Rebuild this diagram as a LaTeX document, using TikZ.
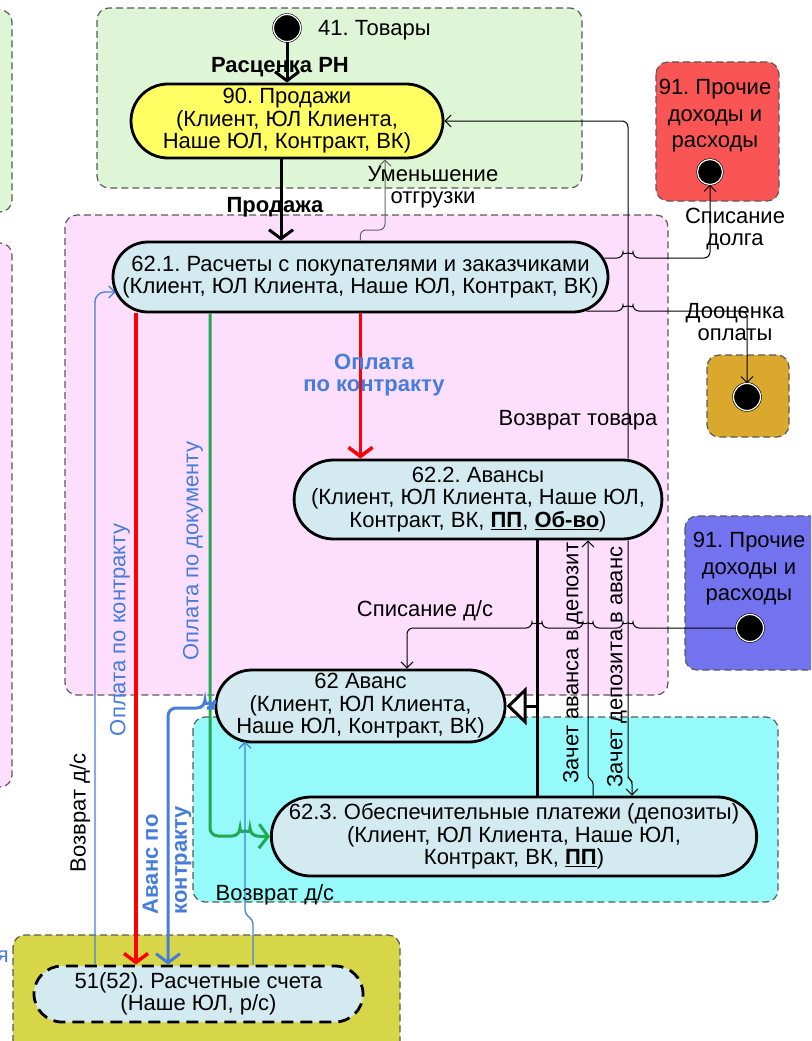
\documentclass[tikz,border=0pt]{standalone}
\usepackage{fontspec}
\setmainfont{Liberation Sans}
\usetikzlibrary{positioning,shapes.misc,arrows.meta}
\frenchspacing

\definecolor{regGreen}{RGB}{222,246,214}
\definecolor{regPink}{RGB}{253,222,253}
\definecolor{regCyan}{RGB}{150,250,250}
\definecolor{regRed}{RGB}{250,85,85}
\definecolor{regGold}{RGB}{218,168,45}
\definecolor{regBlue}{RGB}{115,115,240}
\definecolor{regOlive}{RGB}{214,214,72}
\definecolor{acctBlue}{RGB}{210,234,240}
\definecolor{acctYellow}{RGB}{255,255,100}
\definecolor{lblBlue}{RGB}{70,125,220}
\definecolor{payGreen}{RGB}{30,170,80}

\begin{document}
\begin{tikzpicture}[x=1pt,y=-1pt,
  every node/.style={font=\fontsize{22}{22.5}\selectfont, inner sep=0pt},
  region/.style={draw=black!65, line width=1.2pt, dash pattern=on 7pt off 4pt, rounded corners=12pt},
  acct/.style={rounded rectangle, draw=black, line width=2.8pt, fill=acctBlue, align=center},
  startdot/.style={circle, fill=black, draw=black, line width=0.6pt, double=white, double distance=1.2pt, minimum size=27pt},
  flow/.style={line width=3pt, -{Straight Barb[length=9pt,width=24pt]}},
  link/.style={line width=1pt, rounded corners=6pt, -{Straight Barb[length=6pt,width=12pt]}},
  lbl/.style={align=center},
  bluelbl/.style={text=lblBlue, align=center},
]
\clip (0,0) rectangle (811,1041);

% regions
\draw [region, fill=regGreen] (-40,10) rectangle (12,212);
\draw [region, fill=regPink] (-40,243) rectangle (12,787);
\draw [region, fill=regGreen] (97,8) rectangle (582,188);
\draw [region, fill=regPink] (65,215) rectangle (668,695);
\draw [region, fill=regCyan] (193,717) rectangle (778,902);
\draw [region, fill=regRed] (656,62) rectangle (779,201);
\draw [region, fill=regGold] (707,355) rectangle (789,437);
\draw [region, fill=regBlue] (685,516) rectangle (830,670);
\draw [region, fill=regOlive] (13,935) rectangle (400,1060);

% accounts
\node [startdot] (start) at (287,28) {};
\node [anchor=west] (goods) at (318,30) {41. Товары};
\node [acct, fill=acctYellow, minimum width=312pt, minimum height=74pt] (n90) at (287,121)
  {90. Продажи\\(Клиент, ЮЛ Клиента,\\Наше ЮЛ, Контракт, ВК)};
\node [acct, minimum width=495pt, minimum height=70pt] (n621) at (360.5,277)
  {62.1. Расчеты с покупателями и заказчиками\\(Клиент, ЮЛ Клиента, Наше ЮЛ, Контракт, ВК)};
\node [acct, minimum width=350pt, minimum height=79pt] (n622) at (478,499.5)
  {62.2. Авансы\\(Клиент, ЮЛ Клиента, Наше ЮЛ,\\Контракт, ВК, \textbf{\underline{ПП}}, \textbf{\underline{Об-во}})};
\node [acct, minimum width=273pt, minimum height=72pt] (n62) at (360.5,706)
  {62 Аванс\\(Клиент, ЮЛ Клиента,\\Наше ЮЛ, Контракт, ВК)};
\node [acct, minimum width=478pt, minimum height=79pt] (n623) at (514,836.5)
  {62.3. Обеспечительные платежи (депозиты)\\(Клиент, ЮЛ Клиента, Наше ЮЛ,\\Контракт, ВК, \textbf{\underline{ПП}})};
\node [acct, dash pattern=on 12pt off 7pt, minimum width=329pt, minimum height=56pt] (n51) at (198.5,994)
  {51(52). Расчетные счета\\(Наше ЮЛ, р/с)};

\node [lbl, font=\fontsize{22}{26.5}\selectfont] (other1) at (715,116) {91. Прочие\\доходы и\\расходы};
\node [startdot, minimum size=25pt] (reddot) at (710,172) {};
\node [startdot] (golddot) at (747,397) {};
\node [lbl, font=\fontsize{22}{26.5}\selectfont] (other2) at (749,569) {91. Прочие\\доходы и\\расходы};
\node [startdot] (bluedot) at (750,628) {};

% flows
\draw [flow] (start.south) -- (n90.north);
\draw [flow] ([xshift=-6pt]n90.south) -- ([xshift=-6pt]n90.south |- n621.north);
\draw [link, draw=black!60] (n621.north) -- (360,230) -- (385,230) -- ([xshift=98pt]n90.south);
\draw [link] ([xshift=150pt]n622.north) |- (n90.east);
\draw [link] ([xshift=-5pt,yshift=19pt]n621.east) -- (623,258) arc [start angle=180, end angle=360, radius=5]
  -- (710,258) -- (reddot.south);
\draw [link] ([xshift=-23pt,yshift=-34pt]n621.east) -- (623,311) arc [start angle=180, end angle=360, radius=5]
  -- (747,311) -- (golddot.north);
\draw [flow, red, line width=3.5pt] (n621.south) -- (n621.south |- n622.north);
\draw [flow, red, line width=3.5pt] ([xshift=-224.5pt]n621.south) -- ([xshift=-62.5pt]n51.north);
\draw [flow, payGreen, line width=3pt, rounded corners=8pt] ([xshift=-150.5pt]n621.south) -- (210,836)
  -- (240,836) arc [start angle=180, end angle=360, radius=5] -- (n623.west);
\draw [link, lblBlue, line width=1.3pt, rounded corners=10pt] ([xshift=-103.5pt]n51.north) |- ([xshift=4pt,yshift=-15pt]n621.west);
\draw [flow, lblBlue, rounded corners=8pt] ([yshift=-2pt]n62.west) -- (215,708) arc [start angle=0, end angle=-180, radius=5]
  -- (168,708) -- ([xshift=-30.5pt]n51.north);
\draw [link, lblBlue, line width=1.3pt, rounded corners=4pt] ([xshift=54.5pt]n51.north) -- (253,920) -- (245,914)
  -- ([xshift=-115.5pt,yshift=2pt]n62.south);
\draw [link] (bluedot.west) -- (633,628) arc [start angle=0, end angle=-180, radius=5]
  -- (593,628) arc [start angle=0, end angle=-180, radius=5]
  -- (542,628) arc [start angle=0, end angle=-180, radius=5]
  -- (407,628) -- ([xshift=46.5pt]n62.north);
\draw [line width=3pt] ([xshift=59pt]n622.south) -- ([xshift=23pt]n623.north);
\draw [line width=3pt, -{Triangle[open, fill=white, length=20pt, width=38pt]}] ([xshift=59pt]n622.south |- n62.east) -- (n62.east);
\draw [link, rounded corners=3pt] ([xshift=79pt]n623.north) -- (593,781) -- (588,778) -- ([xshift=110pt]n622.south);
\draw [link, rounded corners=3pt] ([xshift=150pt]n622.south) -- (628,778) -- (632,781) -- ([xshift=118pt]n623.north);

% labels
\node [font=\fontsize{22}{22.5}\selectfont\bfseries] (lprice) at (280,67) {Расценка РН};
\node [font=\fontsize{22}{22.5}\selectfont\bfseries] (lsale) at (275,207) {Продажа};
\node [lbl] (lless) at (433,187) {Уменьшение\\отгрузки};
\node [lbl] (lret) at (578,420) {Возврат товара};
\node [lbl] (ldebt) at (735,229) {Списание\\долга};
\node [lbl] (lreval) at (735,322) {Дооценка\\оплаты};
\node [bluelbl, font=\fontsize{22}{22.5}\selectfont\bfseries] (lpay1) at (374,375) {Оплата\\по контракту};
\node [bluelbl, rotate=90] (lpay2) at (120,630) {Оплата по контракту};
\node [bluelbl, rotate=90] (lpay3) at (193,551) {Оплата по документу};
\node [lbl, rotate=90] (lback1) at (80,813) {Возврат д/с};
\node [bluelbl, rotate=90, align=left, font=\fontsize{22}{29}\selectfont\bfseries] (ladv) at (167,860) {Аванс по\\контракту};
\node [lbl] (lback2) at (275,895) {Возврат д/с};
\node [lbl] (lwrite) at (425,611) {Списание д/с};
\node [lbl, rotate=90] (loff1) at (573,663) {Зачет аванса в депозит};
\node [lbl, rotate=90] (loff2) at (617,667) {Зачет депозита в аванс};
\node [text=lblBlue, anchor=east] (lcut) at (9,957) {я};
\end{tikzpicture}
\end{document}
